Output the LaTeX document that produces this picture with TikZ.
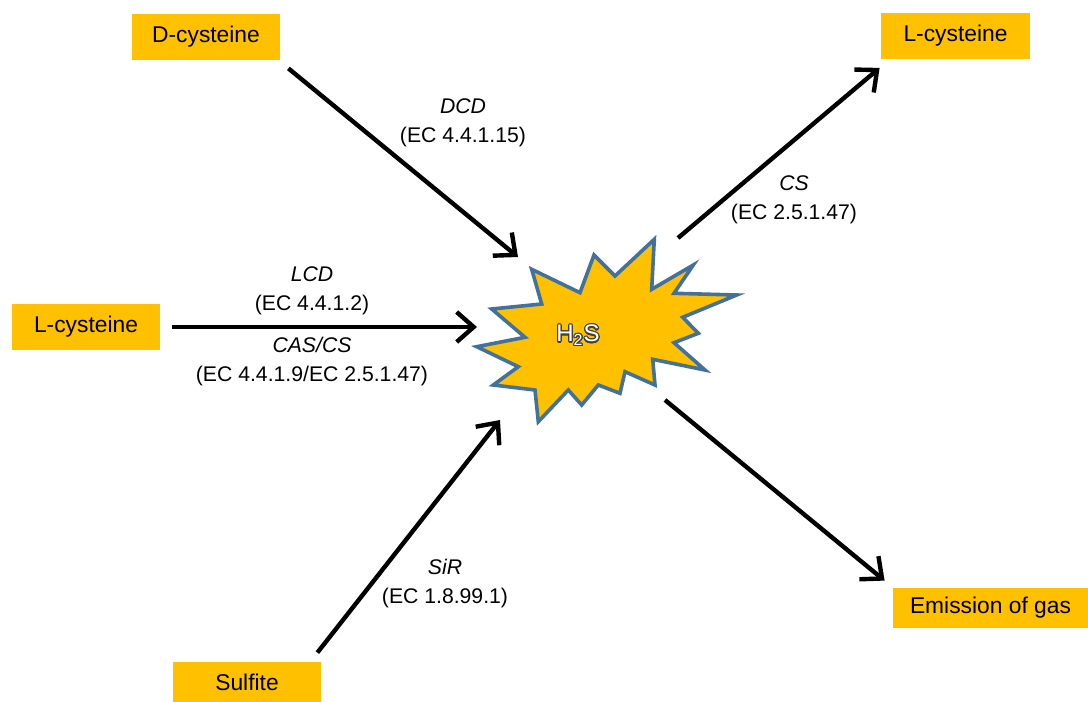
\documentclass[tikz,border=0pt]{standalone}
\usepackage{fontspec}
\setmainfont{Liberation Sans}
\usepackage[copies]{contour}
\usetikzlibrary{arrows.meta, calc, positioning}
\definecolor{boxgold}{RGB}{255,192,0}
\definecolor{burstline}{RGB}{65,113,156}
\contourlength{0.6pt}

\tikzset{
  compound/.style={fill=boxgold, inner sep=0pt, minimum width=74pt, minimum height=23pt, font=\fontsize{11.4}{13}\selectfont},
  enzyme/.style={align=center, font=\fontsize{10.6}{14.5}\selectfont},
  reaction/.style={line width=2.2pt, -{Straight Barb[length=8.5pt,width=15pt]}},
}

\begin{document}
\begin{tikzpicture}[x=0.5pt,y=-0.5pt]
			\useasboundingbox (0,0) rectangle (1088,702);
			% Burst
			\coordinate (burst) at (608,330);
			\draw[fill=boxgold, draw=burstline, line width=1.8pt, line join=miter]
				(476.7,346.7) -- (525,337.3) -- (491.7,309) -- (541.7,304) -- (531.7,269.3)
				-- (580,292.7) -- (594,255) -- (615,276) -- (654.3,239.3) -- (651.7,289.3)
				-- (693.3,265) -- (674,293.3) -- (736.7,295) -- (682.7,317.3) -- (698.3,333.3)
				-- (674,342.7) -- (705,370) -- (652.7,359.3) -- (655,385) -- (625,371.7)
				-- (620,393.3) -- (598.3,385) -- (581.7,405) -- (568.3,390) -- (538.3,421.7)
				-- (535,390) -- (493.3,385) -- (518.3,366.7) -- cycle;
			\node[font=\fontsize{12}{14}\selectfont] (h2s) at (578,336) {\contour{darkgray}{\textcolor{white}{H\textsubscript{2}S}}};
			
			% Compounds
			\node[compound] (dcys) at (206,37) {D-cysteine};
			\node[compound] (lcysin) at (86,327) {L-cysteine};
			\node[compound, minimum height=20pt] (sulf) at (247,682) {Sulfite};
			\node[compound, minimum width=74.5pt] (lcysout) at (955.5,35.5) {L-cysteine};
			\node[compound, minimum width=97.5pt, minimum height=20pt] (gas) at (990.5,608) {Emission of gas};
			
			% Reactions
			\draw[reaction] ($(dcys.south east)+(8,8)$) -- ($(burst)+(-90,-73)$);
			\draw[reaction] ($(lcysin.east)+(12,0)$) -- ($(burst)+(-131,-3)$);
			\draw[reaction] ($(sulf.north east)+(-4,-9)$) -- ($(burst)+(-108,90)$);
			\draw[reaction] ($(burst)+(70,-92)$) -- ($(lcysout.south west)+(-1,9)$);
			\draw[reaction] ($(burst)+(57,70)$) -- ($(gas.north west)+(-8,-7)$);
			
			% Enzymes
			\node[enzyme] (dcd) at (463,123) {\textit{DCD}\\(EC 4.4.1.15)};
			\node[enzyme] (lcd) at (312,291) {\textit{LCD}\\(EC 4.4.1.2)};
			\node[enzyme] (cascs) at (312,362) {\textit{CAS/CS}\\(EC 4.4.1.9/EC 2.5.1.47)};
			\node[enzyme] (sir) at (445,584) {\textit{SiR}\\(EC 1.8.99.1)};
			\node[enzyme] (cs) at (794,200) {\textit{CS}\\(EC 2.5.1.47)};
		\end{tikzpicture}
\end{document}
